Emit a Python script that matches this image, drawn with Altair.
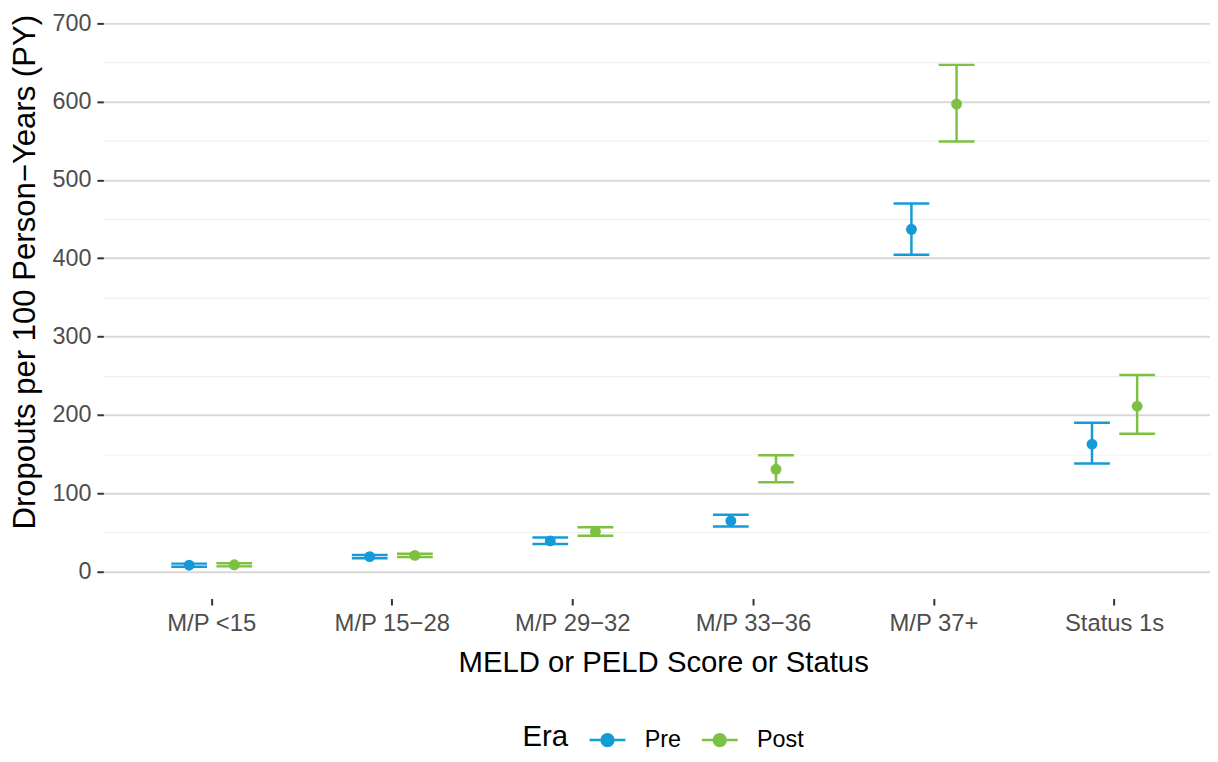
import altair as alt
import pandas as pd

categories = ["M/P <15", "M/P 15−28", "M/P 29−32", "M/P 33−36", "M/P 37+", "Status 1s"]
eras = ["Pre", "Post"]
pre_rate = [8.0, 19.0, 39.0, 64.5, 437.0, 162.5]
pre_lower = [6.0, 17.0, 35.0, 57.5, 404.5, 138.0]
pre_upper = [10.0, 21.0, 43.5, 72.5, 470.0, 190.0]
post_rate = [8.5, 20.5, 51.0, 130.5, 597.0, 211.0]
post_lower = [6.5, 18.5, 45.5, 114.0, 549.0, 176.0]
post_upper = [10.5, 22.5, 56.5, 148.5, 647.0, 251.0]
era_colors = ["#149BD7", "#7CC142"]
y_ticks = [0, 50, 100, 150, 200, 250, 300, 350, 400, 450, 500, 550, 600, 650, 700]

rows = []
for i, c in enumerate(categories):
    rows.append(dict(cat=c, era="Pre", rate=pre_rate[i], lo=pre_lower[i], hi=pre_upper[i]))
    rows.append(dict(cat=c, era="Post", rate=post_rate[i], lo=post_lower[i], hi=post_upper[i]))
df = pd.DataFrame(rows)

FONT = "Liberation Sans"

x_enc = alt.X(
    "cat:N",
    sort=categories,
    scale=alt.Scale(paddingInner=0, paddingOuter=0.1),
    axis=alt.Axis(
        title="MELD or PELD Score or Status",
        labelAngle=0,
        grid=False,
        domain=False,
        tickSize=6.5,
        tickWidth=2,
        tickColor="#333333",
        labelPadding=7,
        labelFontSize=24,
        labelColor="#4D4D4D",
        titleFontSize=29.5,
        titleFontWeight="normal",
        titleColor="#000000",
        titlePadding=13,
    ),
)
xo_enc = alt.XOffset("era:N", sort=eras, scale=alt.Scale(paddingInner=0, paddingOuter=1))

y_scale = alt.Scale(domain=[-34.6, 716.5], nice=False, zero=False)
y_axis = alt.Axis(
    title="Dropouts per 100 Person−Years (PY)",
    titleY=263,
    values=y_ticks,
    labelExpr="datum.value % 100 === 0 ? datum.label : ''",
    gridColor=alt.condition("datum.value % 100 === 0", alt.value("#D9D9D9"), alt.value("#EFEFEF")),
    gridWidth=alt.condition("datum.value % 100 === 0", alt.value(2), alt.value(1.2)),
    tickColor=alt.condition("datum.value % 100 === 0", alt.value("#333333"), alt.value("transparent")),
    domain=False,
    tickSize=6.5,
    tickWidth=2,
    labelPadding=6,
    labelFontSize=23.5,
    labelColor="#4D4D4D",
    titleFontSize=31.3,
    titleFontWeight="normal",
    titleColor="#000000",
    titlePadding=11,
)

legend_symbol = (
    "M-1,0L1,0"
    "M0.33,0A0.33,0.33,0,1,1,-0.33,0A0.33,0.33,0,1,1,0.33,0Z"
)
color_enc = alt.Color(
    "era:N",
    sort=eras,
    scale=alt.Scale(domain=eras, range=era_colors),
    legend=alt.Legend(
        title="Era",
        orient="none",
        legendX=422,
        legendY=715,
        direction="horizontal",
        titleOrient="left",
        titleFontSize=29.5,
        titleFontWeight="normal",
        titleColor="#000000",
        titlePadding=20,
        labelFontSize=23.5,
        labelColor="#000000",
        labelOffset=18,
        columnPadding=15,
        symbolType=legend_symbol,
        symbolSize=1296,
        symbolStrokeWidth=2.5,
    ),
)

base = alt.Chart(df).encode(x=x_enc, xOffset=xo_enc, color=color_enc)

rule = base.mark_rule(strokeWidth=2.5).encode(
    y=alt.Y("lo:Q", scale=y_scale, axis=y_axis), y2="hi:Q"
)
cap_lo = base.mark_tick(thickness=2.5, size=36, opacity=1).encode(
    y=alt.Y("lo:Q", scale=y_scale, axis=y_axis)
)
cap_hi = base.mark_tick(thickness=2.5, size=36, opacity=1).encode(
    y=alt.Y("hi:Q", scale=y_scale, axis=y_axis)
)
point = base.mark_circle(size=120, opacity=1).encode(
    y=alt.Y("rate:Q", scale=y_scale, axis=y_axis)
)

chart = (
    alt.layer(rule, cap_lo, cap_hi, point)
    .properties(
        width=1127,
        height=592,
        padding={"left": 96, "top": 0, "right": -13, "bottom": 154},
        autosize=alt.AutoSizeParams(type="none"),
    )
    .configure(font=FONT)
    .configure_view(strokeWidth=0, stroke="transparent")
    .configure_axis(labelFont=FONT, titleFont=FONT)
    .configure_legend(labelFont=FONT, titleFont=FONT)
)

chart.save("out.html", embed_options={"renderer": "svg", "actions": False})
